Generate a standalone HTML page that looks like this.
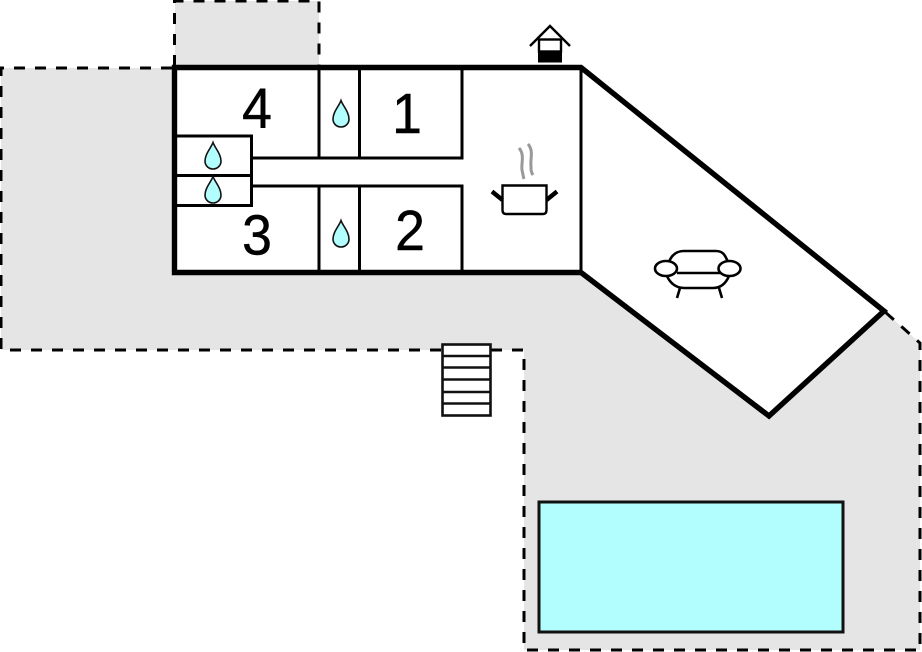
<!DOCTYPE html>
<html>
<head>
<meta charset="utf-8">
<style>
html,body{margin:0;padding:0;background:#fff;}
svg{display:block;}
text{font-family:"Liberation Sans",sans-serif;font-size:57px;fill:#000;stroke:#000;stroke-width:.5px;text-anchor:middle;}
</style>
</head>
<body>
<svg width="922" height="652" viewBox="0 0 922 652" xmlns="http://www.w3.org/2000/svg">
<defs>
<path id="drop" d="M0,-13.500 C2,-8 8,-2 8,5 C8,10 4,13 0,13 C-4,13 -8,10 -8,5 C-8,-2 -2,-8 0,-13.500 Z" fill="#b2feff" stroke="#111" stroke-width="1.600"/>
</defs>
<!-- terrain -->
<polygon points="1,68 175,68 175,1 319,1 319,68 581,68 884,311 920,343 920,650 524,650 524,350 1,350" fill="#e5e5e5"/>
<g fill="none" stroke="#000" stroke-width="3" stroke-dasharray="11 10">
<polyline points="172,68 1,68 1,350 442,350"/>
<polyline points="174.500,66 174.500,1 319,1 319,68"/>
<polyline points="491,350 524,350 524,650 920,650 920,343 884,311"/>
</g>
<!-- building -->
<polygon points="174.500,67.500 581,67.500 884,311 769,416 581,272.500 174.500,272.500" fill="#fff"/>
<g fill="none" stroke="#000" stroke-width="3">
<path d="M319,68V158M359.500,68V158M462,68V159.500M251,158H462"/>
<path d="M319,186V272M359.500,186V272M462,184.500V272M251,186H462"/>
<path d="M581,68V272"/>
<path d="M176,136H251.500V205.500H176M176,175.500H251.500"/>
</g>
<polygon points="174.500,67.500 581,67.500 884,311 769,416 581,272.500 174.500,272.500" fill="none" stroke="#000" stroke-width="5.400" stroke-linejoin="miter"/>
<!-- labels -->
<text transform="translate(257 128) scale(.94 1)">4</text>
<text transform="translate(407 133) scale(.94 1)">1</text>
<text transform="translate(410 250) scale(.94 1)">2</text>
<text transform="translate(257 254.500) scale(.94 1)">3</text>
<!-- drops -->
<use href="#drop" x="341" y="114"/>
<use href="#drop" x="213" y="156"/>
<use href="#drop" x="213" y="190"/>
<use href="#drop" x="341" y="234"/>
<!-- well -->
<path d="M530,46 L550,26 L570,46" fill="none" stroke="#000" stroke-width="2.400"/>
<rect x="539" y="39.500" width="22" height="12" fill="#fff" stroke="#000" stroke-width="2.400"/>
<rect x="538" y="50.500" width="24" height="12" fill="#000"/>
<!-- pot -->
<path d="M502.500,185.500H546.500V210Q546.500,214 543,214H506Q502.500,214 502.500,210Z" fill="#fff" stroke="#000" stroke-width="2.400"/>
<path d="M492,191.500L502.500,200M557,191.500L546.500,200" stroke="#000" stroke-width="4.400" fill="none"/>
<path d="M519,148 C525,155 521,163 522,170 C523,174 523,176 524,179" fill="none" stroke="#999" stroke-width="3"/>
<path d="M528,144 C534,151 530,159 531,166 C531,170 531,172 533,175" fill="none" stroke="#999" stroke-width="3"/>
<!-- sofa -->
<g fill="none" stroke="#000" stroke-width="2.600">
<path d="M669,262 C672,254 677,251 684,251 H716 C723,251 725,255 728,262"/>
<path d="M677,273 H720"/>
<path d="M667,276 C670,283 676,288 684,288 H713 C721,288 726,283 729,276"/>
<ellipse cx="666" cy="268.500" rx="11" ry="7.500" fill="#fff"/>
<ellipse cx="729.500" cy="268.500" rx="11" ry="7.500" fill="#fff"/>
<path d="M680,288L677,298M719,288L722,298"/>
</g>
<!-- stairs -->
<rect x="442.500" y="344.500" width="48" height="71" fill="#fff" stroke="#111" stroke-width="2.600"/>
<path d="M443,356H490M443,367.500H490M443,379.500H490M443,392H490M443,403.500H490" stroke="#111" stroke-width="2.600" fill="none"/>
<!-- pool -->
<rect x="539" y="502" width="304" height="130" fill="#b2feff" stroke="#111" stroke-width="3"/>
</svg>
</body>
</html>
